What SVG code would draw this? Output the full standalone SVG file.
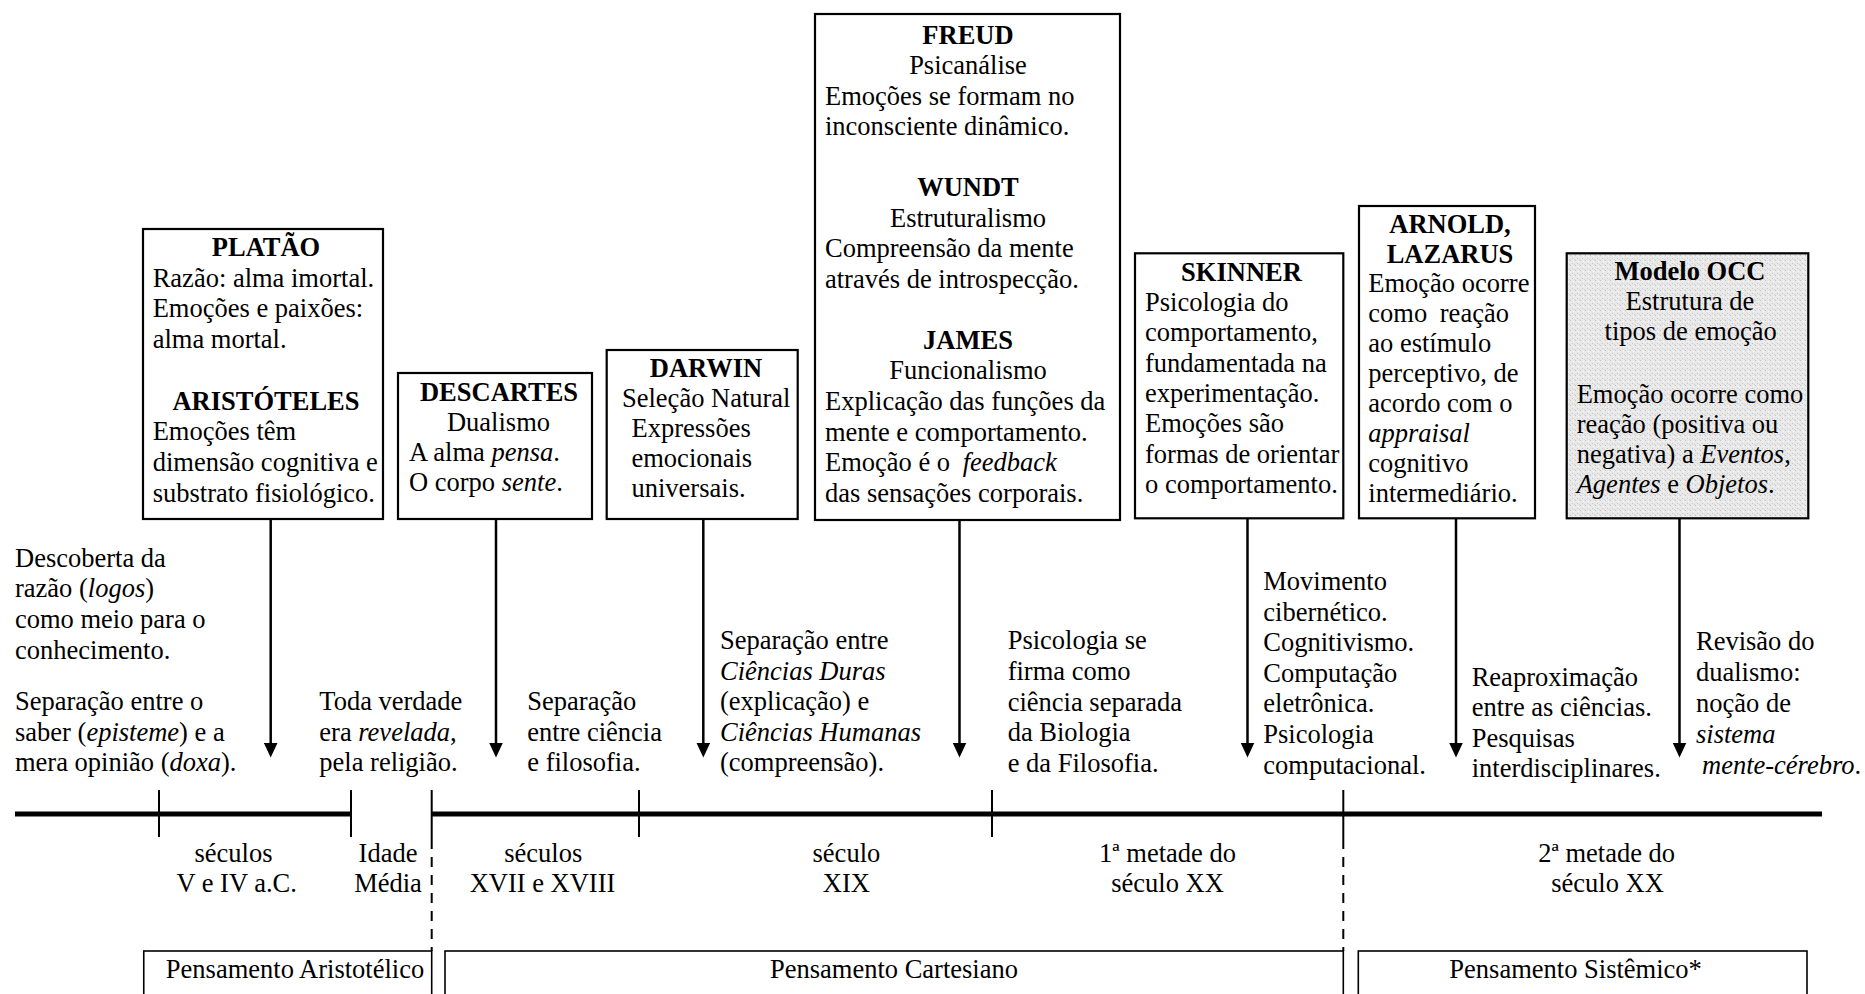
<svg xmlns="http://www.w3.org/2000/svg" width="1865" height="994" viewBox="0 0 1865 994">
  <style>
    text { font-family: "Liberation Serif", "Times New Roman", serif; font-size: 26.5px; fill: #000; }
    .b { font-weight: bold; }
    .i { font-style: italic; }
    .c { text-anchor: middle; }
    .box { fill: #fff; stroke: #000; stroke-width: 2.2; }
    .occ { fill: url(#stipple); stroke: #000; stroke-width: 2.2; }
    .era { fill: none; stroke: #000; stroke-width: 1.6; }
    .arrow { stroke: #000; stroke-width: 2.5; fill: none; marker-end: url(#head); }
    .axis { stroke: #000; stroke-width: 5; }
    .tick { stroke: #000; stroke-width: 2; }
    .dash { stroke: #000; stroke-width: 2; stroke-dasharray: 10 8; }
  </style>
  <defs>
    <marker id="head" viewBox="0 0 15 14" refX="1" refY="7" markerWidth="15" markerHeight="14" markerUnits="userSpaceOnUse" orient="auto">
      <path d="M0,0 L15,7 L0,14 z" fill="#000"/>
    </marker>
    <pattern id="stipple" width="5" height="5" patternUnits="userSpaceOnUse">
      <rect width="5" height="5" fill="#e9e9e9"/>
      <rect x="0" y="0" width="1" height="1" fill="#c2c2c2"/>
      <rect x="2" y="3" width="1" height="1" fill="#c8c8c8"/>
      <rect x="3" y="1" width="1" height="1" fill="#f8f8f8"/>
      <rect x="4" y="4" width="1" height="1" fill="#d2d2d2"/>
    </pattern>
  </defs>

  <!-- timeline axis, ticks and era separators -->
  <g id="timeline">
    <line class="axis" x1="15" y1="814" x2="351" y2="814"/>
    <line class="axis" x1="431.7" y1="814" x2="1822" y2="814"/>
    <line class="tick" x1="159" y1="790" x2="159" y2="837"/>
    <line class="tick" x1="351" y1="790" x2="351" y2="837"/>
    <line class="tick" x1="431.7" y1="790" x2="431.7" y2="839"/>
    <line class="tick" x1="639" y1="790" x2="639" y2="837"/>
    <line class="tick" x1="992" y1="790" x2="992" y2="837"/>
    <line class="tick" x1="1343.3" y1="790" x2="1343.3" y2="839"/>
    <line class="dash" x1="431.7" y1="839" x2="431.7" y2="951"/>
    <line class="dash" x1="1343.3" y1="839" x2="1343.3" y2="951"/>
  </g>

  <!-- connectors from the thinkers down to the timeline -->
  <g id="connectors">
    <line class="arrow" x1="270.7" y1="519" x2="270.7" y2="743.5"/>
    <line class="arrow" x1="496" y1="519" x2="496" y2="743.5"/>
    <line class="arrow" x1="703.3" y1="519" x2="703.3" y2="743.5"/>
    <line class="arrow" x1="959.5" y1="520" x2="959.5" y2="743.5"/>
    <line class="arrow" x1="1247.5" y1="518" x2="1247.5" y2="743.5"/>
    <line class="arrow" x1="1456" y1="518" x2="1456" y2="743.5"/>
    <line class="arrow" x1="1679.5" y1="518" x2="1679.5" y2="743.5"/>
  </g>

  <g id="platao">
    <rect class="box" x="143" y="229" width="240" height="290"/>
    <text class="b c" x="266" y="256">PLATÃO</text>
    <text x="152.7" y="286.7">Razão: alma imortal.</text>
    <text x="152.7" y="317.2">Emoções e paixões:</text>
    <text x="152.7" y="347.7">alma mortal.</text>
    <text class="b c" x="266" y="409.5">ARISTÓTELES</text>
    <text x="152.7" y="440">Emoções têm</text>
    <text x="152.7" y="470.7">dimensão cognitiva e</text>
    <text x="152.7" y="501.5">substrato fisiológico.</text>
  </g>

  <g id="descartes">
    <rect class="box" x="398" y="373" width="194" height="146"/>
    <text class="b c" x="499" y="401">DESCARTES</text>
    <text class="c" x="498.5" y="431">Dualismo</text>
    <text x="409" y="461">A alma <tspan class="i">pensa</tspan>.</text>
    <text x="409" y="491">O corpo <tspan class="i">sente</tspan>.</text>
  </g>

  <g id="darwin">
    <rect class="box" x="606.7" y="350" width="191" height="169"/>
    <text class="b c" x="706" y="377">DARWIN</text>
    <text x="622" y="407">Seleção Natural</text>
    <text x="631.5" y="437">Expressões</text>
    <text x="631.5" y="467">emocionais</text>
    <text x="631.5" y="497">universais.</text>
  </g>

  <g id="freud-wundt-james">
    <rect class="box" x="815" y="14" width="305" height="506"/>
    <text class="b c" x="968" y="43.5">FREUD</text>
    <text class="c" x="968" y="74">Psicanálise</text>
    <text x="825" y="104.6">Emoções se formam no</text>
    <text x="825" y="135.1">inconsciente dinâmico.</text>
    <text class="b c" x="968" y="196.2">WUNDT</text>
    <text class="c" x="968" y="226.7">Estruturalismo</text>
    <text x="825" y="257.3">Compreensão da mente</text>
    <text x="825" y="287.8">através de introspecção.</text>
    <text class="b c" x="968" y="348.9">JAMES</text>
    <text class="c" x="968" y="379.4">Funcionalismo</text>
    <text x="825" y="410">Explicação das funções da</text>
    <text x="825" y="440.5">mente e comportamento.</text>
    <text x="825" y="471">Emoção é o <tspan class="i" dx="6">feedback</tspan></text>
    <text x="825" y="501.5">das sensações corporais.</text>
  </g>

  <g id="skinner">
    <rect class="box" x="1135" y="253.3" width="208.3" height="265"/>
    <text class="b c" x="1241.5" y="281">SKINNER</text>
    <text x="1145" y="311">Psicologia do</text>
    <text x="1145" y="341.3">comportamento,</text>
    <text x="1145" y="371.6">fundamentada na</text>
    <text x="1145" y="401.9">experimentação.</text>
    <text x="1145" y="432.2">Emoções são</text>
    <text x="1145" y="462.5">formas de orientar</text>
    <text x="1145" y="492.8">o comportamento.</text>
  </g>

  <g id="arnold-lazarus">
    <rect class="box" x="1359" y="206" width="176" height="312.3"/>
    <text class="b c" x="1450" y="233.3">ARNOLD,</text>
    <text class="b c" x="1450" y="263">LAZARUS</text>
    <text x="1368.3" y="292">Emoção ocorre</text>
    <text x="1368.3" y="322">como <tspan dx="6">reação</tspan></text>
    <text x="1368.3" y="352">ao estímulo</text>
    <text x="1368.3" y="382">perceptivo, de</text>
    <text x="1368.3" y="412">acordo com o</text>
    <text class="i" x="1368.3" y="442">appraisal</text>
    <text x="1368.3" y="472">cognitivo</text>
    <text x="1368.3" y="502">intermediário.</text>
  </g>

  <g id="modelo-occ">
    <rect class="occ" x="1566.7" y="253.3" width="241.6" height="265"/>
    <text class="b c" x="1690" y="280">Modelo OCC</text>
    <text class="c" x="1690" y="310">Estrutura de</text>
    <text class="c" x="1690.7" y="340">tipos de emoção</text>
    <text x="1576.7" y="403.3">Emoção ocorre como</text>
    <text x="1576.7" y="433.3">reação (positiva ou</text>
    <text x="1576.7" y="463.3">negativa) a <tspan class="i">Eventos</tspan>,</text>
    <text x="1576.7" y="493.3"><tspan class="i">Agentes</tspan> e <tspan class="i">Objetos</tspan>.</text>
  </g>

  <!-- notes above the timeline -->
  <g id="note-antiguidade">
    <text x="15" y="566.7">Descoberta da</text>
    <text x="15" y="597.3">razão (<tspan class="i">logos</tspan>)</text>
    <text x="15" y="628">como meio para o</text>
    <text x="15" y="658.5">conhecimento.</text>
    <text x="15" y="710">Separação entre o</text>
    <text x="15" y="740.5">saber (<tspan class="i">episteme</tspan>) e a</text>
    <text x="15" y="771">mera opinião (<tspan class="i">doxa</tspan>).</text>
  </g>
  <g id="note-idade-media">
    <text x="319.3" y="710">Toda verdade</text>
    <text x="319.3" y="740.5">era <tspan class="i">revelada</tspan>,</text>
    <text x="319.3" y="771">pela religião.</text>
  </g>
  <g id="note-seculos-xvii-xviii">
    <text x="527.3" y="710">Separação</text>
    <text x="527.3" y="740.5">entre ciência</text>
    <text x="527.3" y="771">e filosofia.</text>
  </g>
  <g id="note-seculo-xix">
    <text x="720" y="649">Separação entre</text>
    <text class="i" x="720" y="679.5">Ciências Duras</text>
    <text x="720" y="710">(explicação) e</text>
    <text class="i" x="720" y="740.5">Ciências Humanas</text>
    <text x="720" y="771">(compreensão).</text>
  </g>
  <g id="note-psicologia">
    <text x="1007.7" y="649">Psicologia se</text>
    <text x="1007.7" y="679.5">firma como</text>
    <text x="1007.7" y="710.5">ciência separada</text>
    <text x="1007.7" y="741">da Biologia</text>
    <text x="1007.7" y="771.5">e da Filosofia.</text>
  </g>
  <g id="note-cibernetica">
    <text x="1263.3" y="590">Movimento</text>
    <text x="1263.3" y="620.6">cibernético.</text>
    <text x="1263.3" y="651.2">Cognitivismo.</text>
    <text x="1263.3" y="681.8">Computação</text>
    <text x="1263.3" y="712.4">eletrônica.</text>
    <text x="1263.3" y="743">Psicologia</text>
    <text x="1263.3" y="773.6">computacional.</text>
  </g>
  <g id="note-reaproximacao">
    <text x="1471.7" y="685.5">Reaproximação</text>
    <text x="1471.7" y="716">entre as ciências.</text>
    <text x="1471.7" y="746.5">Pesquisas</text>
    <text x="1471.7" y="777">interdisciplinares.</text>
  </g>
  <g id="note-revisao">
    <text x="1696" y="650">Revisão do</text>
    <text x="1696" y="681">dualismo:</text>
    <text x="1696" y="712">noção de</text>
    <text class="i" x="1696" y="743">sistema</text>
    <text x="1702" y="774"><tspan class="i">mente-cérebro</tspan>.</text>
  </g>

  <!-- period labels under the timeline -->
  <g id="periods">
    <text class="c" x="233.5" y="861.5">séculos</text>
    <text class="c" x="236.7" y="891.7">V e IV a.C.</text>
    <text class="c" x="388" y="861.5">Idade</text>
    <text class="c" x="388" y="891.7">Média</text>
    <text class="c" x="543.3" y="861.5">séculos</text>
    <text class="c" x="542.5" y="891.7">XVII e XVIII</text>
    <text class="c" x="846.4" y="861.5">século</text>
    <text class="c" x="846.4" y="891.7">XIX</text>
    <text class="c" x="1167.5" y="861.5">1ª metade do</text>
    <text class="c" x="1167.5" y="891.7">século XX</text>
    <text class="c" x="1606.7" y="861.5">2ª metade do</text>
    <text class="c" x="1607.5" y="891.7">século XX</text>
  </g>

  <!-- schools of thought -->
  <g id="pensamento-aristotelico">
    <rect class="era" x="143.75" y="951" width="287.95" height="80"/>
    <text class="c" x="295" y="977.5">Pensamento Aristotélico</text>
  </g>
  <g id="pensamento-cartesiano">
    <rect class="era" x="445" y="951" width="898.3" height="80"/>
    <text class="c" x="894" y="977.5">Pensamento Cartesiano</text>
  </g>
  <g id="pensamento-sistemico">
    <rect class="era" x="1358.3" y="951" width="448.7" height="80"/>
    <text class="c" x="1575.6" y="977.5">Pensamento Sistêmico*</text>
  </g>
</svg>
